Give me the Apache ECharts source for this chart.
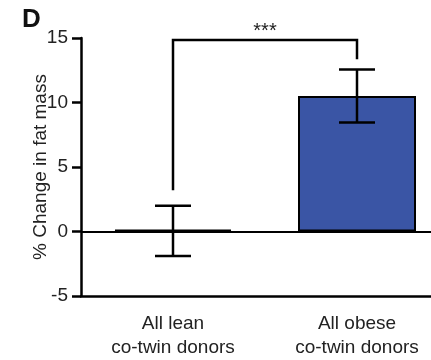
<!DOCTYPE html>
<html>
<head>
<meta charset="utf-8">
<script src="https://cdn.jsdelivr.net/npm/echarts@6/dist/echarts.min.js"></script>
<style>
  html, body { margin: 0; padding: 0; background: #fff; overflow: hidden; }
  /* the category axis runs past the right edge in the figure, so the canvas is wider than the window */
  #charts { width: 449px; height: 360px; }
</style>
</head>
<body>
<div id="charts"></div>
<script>
// data
const categories = ['All lean\nco-twin donors', 'All obese\nco-twin donors'];
const meanChange = [0.15, 10.5];
const errLow = [-1.9, 8.45];
const errHigh = [2.0, 12.55];
// significance bracket: [top, left leg end, right leg end]
const bracket = [14.85, 3.2, 13.35];
const sigLabel = '***';
const yTicks = { min: -5, max: 15, step: 5 };

const chartDom = document.getElementById('charts');
const myChart = echarts.init(chartDom);

const option = {
    animation: false,
    textStyle: { fontFamily: 'Liberation Sans, Arial, sans-serif' },
    graphic: [
        {
            type: 'text',
            left: 22,
            top: 7,
            style: { text: 'D', fontSize: 26, fontWeight: 'bold', fill: '#111', fontFamily: 'Liberation Sans' }
        }
    ],
    grid: {
        left: 81,
        right: 0,
        top: 38,
        bottom: 62
    },
    xAxis: {
        type: 'category',
        data: categories,
        axisLine: { onZero: false, lineStyle: { color: '#000', width: 2.5 } },
        axisTick: { alignWithLabel: true, length: 6, lineStyle: { color: '#000', width: 2.5 } },
        axisLabel: { color: '#222', fontSize: 19, margin: 16, lineHeight: 24 }
    },
    yAxis: {
        type: 'value',
        min: yTicks.min,
        max: yTicks.max,
        interval: yTicks.step,
        name: '% Change in fat mass',
        nameLocation: 'middle',
        nameGap: 31,
        nameMoveOverlap: false,
        nameTextStyle: { color: '#222', fontSize: 19 },
        splitLine: { show: false },
        axisLine: { show: true, lineStyle: { color: '#000', width: 2.5 } },
        axisTick: { show: true, length: 9, lineStyle: { color: '#000', width: 2.5 } },
        axisLabel: { color: '#222', fontSize: 19, margin: 13 }
    },
    series: [
        {
            type: 'bar',
            data: meanChange,
            barWidth: 118,
            itemStyle: { color: '#3a55a5', borderColor: '#000', borderWidth: 2 },
            markLine: {
                silent: true,
                symbol: 'none',
                label: { show: false },
                lineStyle: { color: '#000', width: 2, type: 'solid' },
                data: [{ yAxis: 0 }]
            },
            z: 2
        },
        {
            type: 'custom',
            z: 5,
            data: categories.map((c, i) => [i, errLow[i], errHigh[i]]),
            renderItem: function (params, api) {
                const x = api.value(0);
                const lo = api.coord([x, api.value(1)]);
                const hi = api.coord([x, api.value(2)]);
                const hw = 18;
                const st = { stroke: '#000', lineWidth: 2.5 };
                return {
                    type: 'group',
                    children: [
                        { type: 'line', shape: { x1: lo[0], y1: lo[1], x2: hi[0], y2: hi[1] }, style: st },
                        { type: 'line', shape: { x1: lo[0] - hw, y1: lo[1], x2: lo[0] + hw, y2: lo[1] }, style: st },
                        { type: 'line', shape: { x1: hi[0] - hw, y1: hi[1], x2: hi[0] + hw, y2: hi[1] }, style: st }
                    ]
                };
            }
        },
        {
            type: 'custom',
            z: 5,
            clip: false,
            data: [bracket],
            renderItem: function (params, api) {
                const top = api.value(0);
                const a = api.coord([0, api.value(1)]);
                const b = api.coord([1, api.value(2)]);
                const ta = api.coord([0, top]);
                const tb = api.coord([1, top]);
                return {
                    type: 'group',
                    children: [
                        {
                            type: 'polyline',
                            shape: { points: [[a[0], a[1]], [ta[0], ta[1]], [tb[0], tb[1]], [b[0], b[1]]] },
                            style: { stroke: '#000', lineWidth: 2.5, fill: null }
                        },
                        {
                            type: 'text',
                            x: (ta[0] + tb[0]) / 2,
                            y: ta[1] - 8,
                            style: { text: sigLabel, fontSize: 20, fill: '#222', align: 'center', verticalAlign: 'middle' }
                        }
                    ]
                };
            }
        }
    ]
};
myChart.setOption(option);
</script>
</body>
</html>
